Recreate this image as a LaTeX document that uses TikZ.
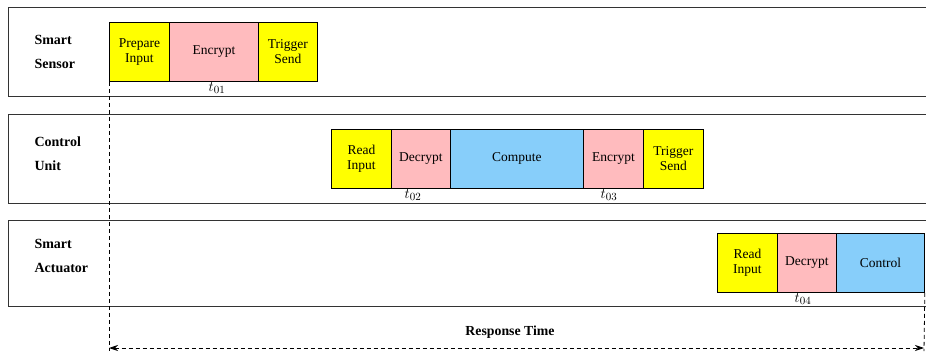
\documentclass[tikz,border=0pt]{standalone}
\usepackage{fontspec}
\setmainfont{Liberation Serif}
\usetikzlibrary{arrows.meta}
\definecolor{yel}{RGB}{255,255,0}
\definecolor{pnk}{RGB}{255,187,190}
\definecolor{blu}{RGB}{135,206,250}
\begin{document}
\begin{tikzpicture}[x=1pt,y=-1pt,
  lane/.style={draw=black!80, line width=1pt},
  box/.style={draw=black, line width=0.8pt, anchor=north west, minimum height=59pt, inner sep=0pt, align=center, font=\fontsize{13.5}{15}\selectfont},
  lanelabel/.style={anchor=west, align=left, font=\fontsize{14}{24}\selectfont\bfseries},
  tlab/.style={font=\fontsize{15}{17}\selectfont},
  dsh/.style={dash pattern=on 4pt off 3pt, line width=0.8pt}]
\useasboundingbox (0,0) rectangle (926,353);
\begin{scope}
\clip (0,0) rectangle (926,353);
\draw[lane] (8,8) rectangle (940,96);
\draw[lane] (8,114) rectangle (940,203);
\draw[lane] (8,220) rectangle (940,306);
\end{scope}
\node[lanelabel] (l1) at (31,52) {Smart\\Sensor};
\node[lanelabel] (l2) at (31,154) {Control\\Unit};
\node[lanelabel] (l3) at (31,256) {Smart\\Actuator};
% sensor
\node[box, fill=yel, minimum width=60pt] (s1) at (109,22) {Prepare\\Input};
\node[box, fill=pnk, minimum width=89pt] (s2) at (169,22) {Encrypt};
\node[box, fill=yel, minimum width=59pt] (s3) at (258,22) {Trigger\\Send};
\node[tlab] (t1) at (217,88) {$t_{01}$};
% control
\node[box, fill=yel, minimum width=60pt] (c1) at (331,129) {Read\\Input};
\node[box, fill=pnk, minimum width=59pt] (c2) at (391,129) {Decrypt};
\node[box, fill=blu, minimum width=133pt] (c3) at (450,129) {Compute};
\node[box, fill=pnk, minimum width=60pt] (c4) at (583,129) {Encrypt};
\node[box, fill=yel, minimum width=60pt] (c5) at (643,129) {Trigger\\Send};
\node[tlab] (t2) at (413,195) {$t_{02}$};
\node[tlab] (t3) at (609,195) {$t_{03}$};
% actuator
\node[box, fill=yel, minimum width=60pt] (a1) at (717,233) {Read\\Input};
\node[box, fill=pnk, minimum width=59pt] (a2) at (777,233) {Decrypt};
\node[box, fill=blu, minimum width=88pt] (a3) at (836,233) {Control};
\node[tlab] (t4) at (803,299) {$t_{04}$};
% response time
\coordinate (rl) at (109,351);
\coordinate (rr) at (924,351);
\coordinate (al) at (109,348);
\coordinate (ar) at (924,348);
\draw[dsh] (s1.south west) -- (rl);
\draw[dsh] (a3.south east) -- (rr);
\draw[dsh, {Stealth[length=9pt,width=6pt]}-{Stealth[length=9pt,width=6pt]}] (al) -- (ar);
\node[font=\fontsize{13.8}{15}\selectfont\bfseries] (rt) at (510,332) {Response Time};
\end{tikzpicture}
\end{document}
